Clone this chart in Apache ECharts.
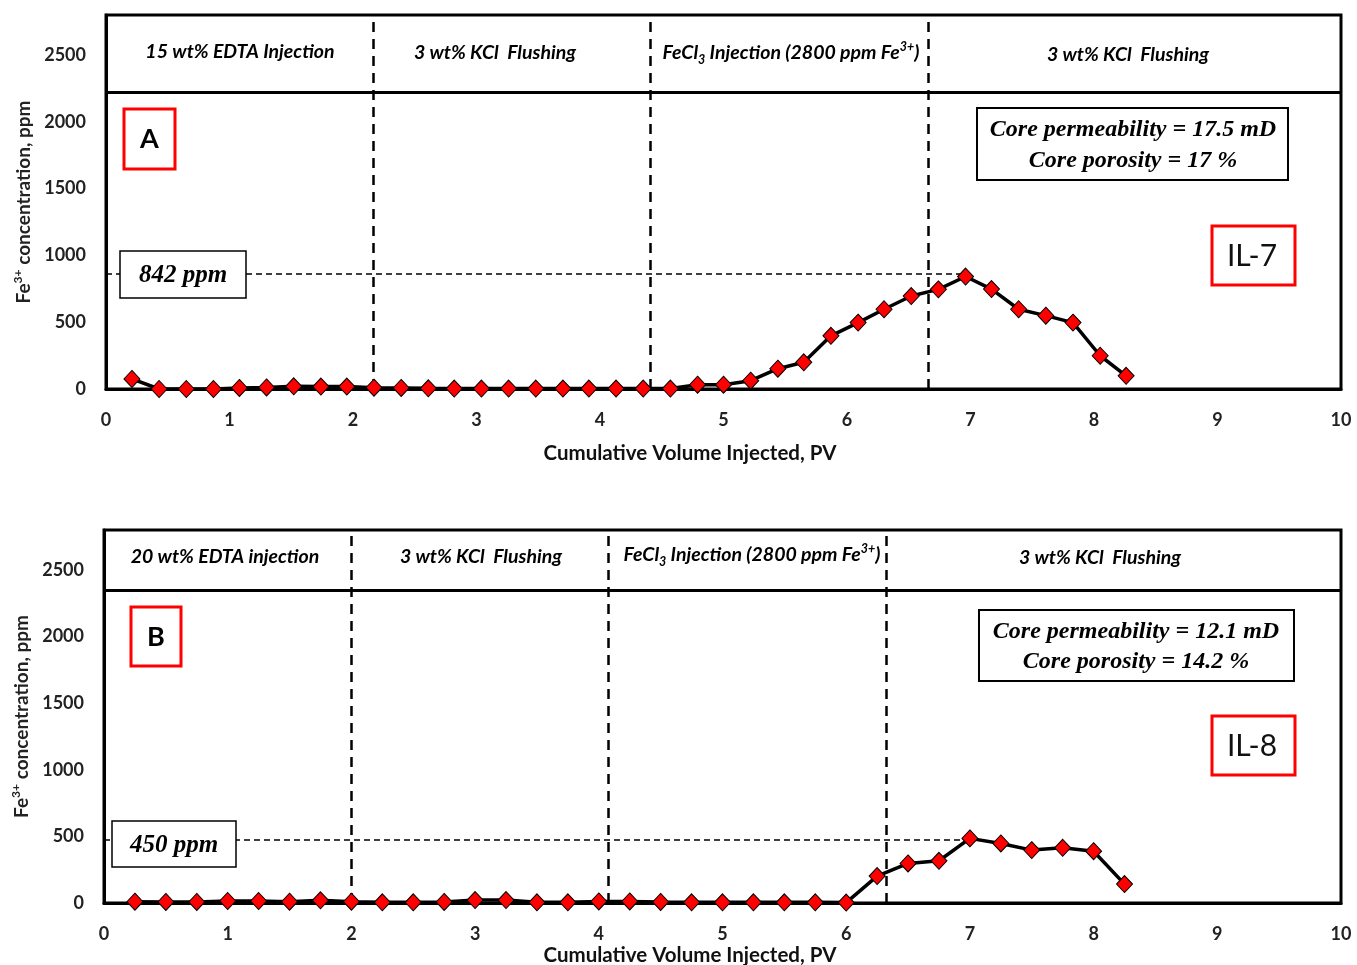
<!DOCTYPE html>
<html>
<head>
<meta charset="utf-8">
<script src="https://cdn.jsdelivr.net/npm/echarts@6/dist/echarts.min.js"></script>
<style>
html,body{margin:0;padding:0;background:#fff;}
#main{width:1357px;height:965px;}
</style>
</head>
<body>
<div id="main"></div>
<script>
// ---- Data ----
const pvA = [0.21,0.43,0.65,0.87,1.08,1.30,1.52,1.74,1.95,2.17,2.39,2.61,2.82,3.04,3.26,3.48,3.70,3.91,4.13,4.35,4.57,4.79,5.00,5.22,5.44,5.65,5.87,6.09,6.30,6.52,6.74,6.96,7.17,7.39,7.61,7.83,8.05,8.26];
const feA = [75,0,0,0,8,12,20,18,18,10,8,5,3,3,3,3,3,3,3,3,3,32,32,62,152,200,398,497,597,696,746,842,748,597,549,497,249,99];
const pvB = [0.25,0.5,0.75,1.0,1.25,1.5,1.75,2.0,2.25,2.5,2.75,3.0,3.25,3.5,3.75,4.0,4.25,4.5,4.75,5.0,5.25,5.5,5.75,6.0,6.25,6.5,6.75,7.0,7.25,7.5,7.75,8.0,8.25];
const feB = [10,8,8,15,15,10,20,10,5,5,8,22,22,5,5,12,12,8,5,5,5,5,5,3,202,297,317,485,447,397,414,389,142];
const stageBoundsA = [2.16, 4.41, 6.66];
const stageBoundsB = [2.0, 4.08, 6.32];
const peakLineA = { x: 6.96, y: 865 };
const peakLineB = { x: 7.0, y: 472 };
const headerLineA = 2223;
const headerLineB = 2350;
const xTicks = { min: 0, max: 10, interval: 1 };
const yTicks = { min: 0, max: 2800, interval: 500 };
const stagesA = ['15 wt% EDTA Injection', '3 wt% KCl  Flushing', 'FeCl3 Injection (2800 ppm Fe3+)', '3 wt% KCl  Flushing'];
const stagesB = ['20 wt% EDTA injection', '3 wt% KCl  Flushing', 'FeCl3 Injection (2800 ppm Fe3+)', '3 wt% KCl  Flushing'];

const SANS = 'Lato, "Open Sans", sans-serif';
const SERIF = '"Liberation Serif", "DejaVu Serif", serif';

const chart = echarts.init(document.getElementById('main'));

function xAxisCfg(gi) {
  return {
    type: 'value', gridIndex: gi, min: xTicks.min, max: xTicks.max, interval: xTicks.interval,
    axisLine: { show: true, onZero: false, lineStyle: { color: '#000', width: 3 } },
    axisTick: { show: false }, splitLine: { show: false },
    axisLabel: { color: '#222', fontSize: 18, fontWeight: 'bold', fontFamily: SANS, margin: 22 }
  };
}
function yAxisCfg(gi) {
  return {
    type: 'value', gridIndex: gi, min: yTicks.min, max: yTicks.max, interval: yTicks.interval,
    axisLine: { show: true, lineStyle: { color: '#000', width: 3 } },
    axisTick: { show: false }, splitLine: { show: false },
    axisLabel: { color: '#222', fontSize: 18, fontWeight: 'bold', fontFamily: SANS, margin: 20, showMaxLabel: false,
      formatter: v => String(v) },
    name: '{a|Fe}{s|3+}{a| concentration, ppm}',
    nameLocation: 'middle', nameGap: 70, nameRotate: 90,
    nameTextStyle: {
      rich: {
        a: { fontSize: 19, fontWeight: 'bold', fontFamily: SANS, color: '#222', lineHeight: 24 },
        s: { fontSize: 12, fontWeight: 'bold', fontFamily: SANS, color: '#222', lineHeight: 24, verticalAlign: 'top', padding: [0,0,9,0] }
      }
    }
  };
}
function seriesCfg(gi, xs, ys, bounds, peak, header) {
  const marks = bounds.map(v => ({ xAxis: v, lineStyle: { type: [10, 7], width: 2.5, color: '#000' } }));
  marks.push({ yAxis: header, lineStyle: { type: 'solid', width: 3, color: '#000' } });
  marks.push([{ coord: [xTicks.min, peak.y] }, { coord: [peak.x, peak.y], lineStyle: { type: [6, 4], width: 1.5, color: '#000' } }]);
  return {
    type: 'line', xAxisIndex: gi, yAxisIndex: gi,
    data: xs.map((x, i) => [x, ys[i]]),
    lineStyle: { color: '#000', width: 3.5 },
    symbol: 'diamond', symbolSize: [16, 17],
    itemStyle: { color: '#ff0000', borderColor: '#000', borderWidth: 1 },
    z: 5,
    markLine: {
      silent: true, symbol: 'none', label: { show: false }, animation: false,
      lineStyle: { color: '#000' },
      data: marks
    }
  };
}

// rich text for stage headers
const hdrRich = {
  n: { fontSize: 19.5, fontStyle: 'italic', fontWeight: 'bold', fontFamily: SANS, color: '#222', lineHeight: 26 },
  sub: { fontSize: 12.5, fontStyle: 'italic', fontWeight: 'bold', fontFamily: SANS, color: '#222', lineHeight: 26, verticalAlign: 'bottom', padding: [7,0,0,0] },
  sup: { fontSize: 12.5, fontStyle: 'italic', fontWeight: 'bold', fontFamily: SANS, color: '#222', lineHeight: 26, verticalAlign: 'top', padding: [0,0,10,0] }
};
function stageText(s) {
  if (s.indexOf('FeCl3') === 0) return '{n|FeCl}{sub|3}{n| Injection (2800 ppm Fe}{sup|3+}{n|)}';
  return '{n|' + s + '}';
}
function txt(x, y, rich, text) {
  return { type: 'text', x: x, y: y, z: 20,
    style: { text: text, rich: rich, align: 'center', verticalAlign: 'middle' } };
}
function plain(x, y, text, font, color) {
  return { type: 'text', x: x, y: y, z: 20,
    style: { text: text, font: font, fill: color || '#111', align: 'center', verticalAlign: 'middle' } };
}
function box(x, y, w, h, color, lw) {
  return { type: 'rect', z: 15, shape: { x: x, y: y, width: w, height: h },
    style: { fill: '#fff', stroke: color, lineWidth: lw } };
}

const graphics = [];
// stage headers
[[240, 52], [495, 53], [791, 53], [1128, 55]].forEach((p, i) => graphics.push(txt(p[0], p[1], hdrRich, stageText(stagesA[i]))));
[[225, 557], [481, 557], [752, 555], [1100, 558]].forEach((p, i) => graphics.push(txt(p[0], p[1], hdrRich, stageText(stagesB[i]))));
// x axis titles
graphics.push(plain(690, 453, 'Cumulative Volume Injected, PV', 'bold 20.5px ' + SANS, '#111'));
graphics.push(plain(690, 955, 'Cumulative Volume Injected, PV', 'bold 20.5px ' + SANS, '#111'));
// A/B boxes
graphics.push(box(124, 109, 51, 60, '#ff0000', 3));
graphics.push(plain(149.5, 139, 'A', 'bold 27px ' + SANS, '#000'));
graphics.push(box(131, 607, 50, 59, '#ff0000', 3));
graphics.push(plain(156, 637, 'B', 'bold 27px ' + SANS, '#000'));
// ppm boxes
graphics.push(box(120, 251, 126, 47, '#000', 1.5));
graphics.push(plain(183, 276, '842 ppm', 'italic bold 25px ' + SERIF, '#000'));
graphics.push(box(112, 821, 124, 46, '#000', 1.5));
graphics.push(plain(174, 846, '450 ppm', 'italic bold 25px ' + SERIF, '#000'));
// core boxes
graphics.push(box(977, 108, 311, 72, '#000', 2));
graphics.push(plain(1133, 130, 'Core permeability = 17.5 mD', 'italic bold 24px ' + SERIF, '#000'));
graphics.push(plain(1133, 161, 'Core porosity = 17 %', 'italic bold 24px ' + SERIF, '#000'));
graphics.push(box(979, 610, 315, 71, '#000', 2));
graphics.push(plain(1136, 632, 'Core permeability = 12.1 mD', 'italic bold 24px ' + SERIF, '#000'));
graphics.push(plain(1136, 662, 'Core porosity = 14.2 %', 'italic bold 24px ' + SERIF, '#000'));
// IL boxes
graphics.push(box(1212, 226, 83, 59, '#ff0000', 3));
graphics.push(plain(1252, 256, 'IL-7', '30px ' + SANS, '#111'));
graphics.push(box(1212, 716, 83, 59, '#ff0000', 3));
graphics.push(plain(1252, 746, 'IL-8', '30px ' + SANS, '#111'));

chart.setOption({
  animation: false,
  backgroundColor: '#fff',
  grid: [
    { left: 106, top: 15, width: 1235, height: 374, show: true, borderColor: '#000', borderWidth: 3, containLabel: false },
    { left: 104, top: 530, width: 1237, height: 373, show: true, borderColor: '#000', borderWidth: 3, containLabel: false }
  ],
  xAxis: [xAxisCfg(0), xAxisCfg(1)],
  yAxis: [yAxisCfg(0), yAxisCfg(1)],
  series: [
    seriesCfg(0, pvA, feA, stageBoundsA, peakLineA, headerLineA),
    seriesCfg(1, pvB, feB, stageBoundsB, peakLineB, headerLineB)
  ],
  graphic: graphics
});
</script>
</body>
</html>
